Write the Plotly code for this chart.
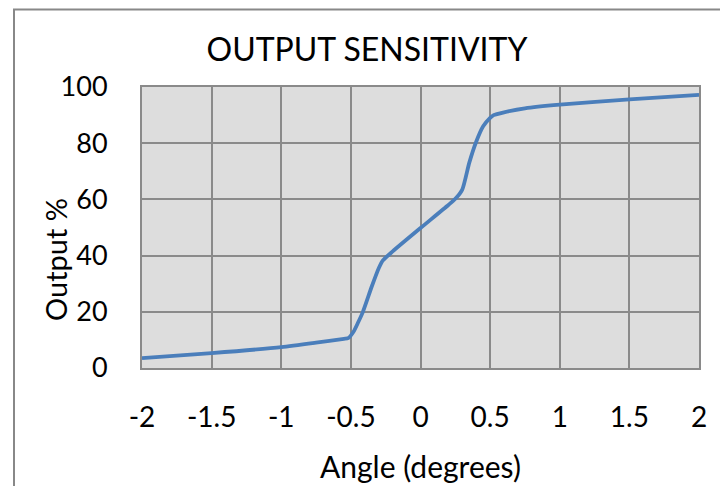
import plotly.graph_objects as go

angle = [-2, -1.5, -1, -0.75, -0.55, -0.52, -0.48, -0.45, -0.415, -0.35, -0.3, -0.27,
         -0.2, 0, 0.2, 0.25, 0.3, 0.35, 0.4, 0.45, 0.5, 0.525, 0.6, 0.75, 1, 1.5, 2]
output = [3.5, 5.3, 7.4, 9.0, 10.4, 10.6, 13.0, 16.0, 19.8, 29.0, 35.5, 38.3,
          41.5, 49.8, 58.0, 60.2, 63.5, 73.0, 80.5, 86.0, 89.0, 90.0, 91.0, 92.4, 93.7, 95.6, 97.2]

x_ticks = [-2, -1.5, -1, -0.5, 0, 0.5, 1, 1.5, 2]
y_ticks = [0, 20, 40, 60, 80, 100]

FONT = "Lato"
GRID = "#8a8a8a"

# page body has an 8px margin, so the figure is 720x478 and offset by 8px
W, H = 720, 478

fig = go.Figure()
fig.add_trace(go.Scatter(
    x=angle, y=output, mode="lines",
    line=dict(color="#4a7ebb", width=3.8, shape="spline", smoothing=0.6),
    showlegend=False,
))

fig.update_layout(
    width=W, height=H,
    margin=dict(l=134, r=29, t=79, b=118),
    paper_bgcolor="white",
    plot_bgcolor="#dddddd",
    font=dict(family=FONT, size=28, color="black"),
    title=dict(text="OUTPUT SENSITIVITY", x=359 / W, xanchor="center",
               y=1 - 42 / H, yanchor="middle", font=dict(size=32, family=FONT)),
    xaxis=dict(range=[-2, 2], tickvals=x_ticks, ticktext=[str(v) for v in x_ticks],
               showgrid=True, gridcolor=GRID, gridwidth=2, zeroline=False,
               showline=True, linecolor=GRID, linewidth=2, mirror=True,
               ticks="", ticklabelstandoff=23, tickfont=dict(size=28)),
    yaxis=dict(range=[0, 100], tickvals=y_ticks,
               showgrid=True, gridcolor=GRID, gridwidth=2, zeroline=False,
               showline=True, linecolor=GRID, linewidth=2, mirror=True,
               ticks="", ticklabelstandoff=27, tickfont=dict(size=27)),
    annotations=[
        dict(text="Angle (degrees)", xref="paper", yref="paper",
             x=(420 - 142) / 557, y=(368 - 466) / 281, xanchor="center", yanchor="middle",
             showarrow=False, font=dict(size=30, family=FONT)),
        dict(text="Output %", xref="paper", yref="paper", textangle=-90,
             x=(55 - 142) / 557, y=(368 - 260) / 281, xanchor="center", yanchor="middle",
             showarrow=False, font=dict(size=29, family=FONT)),
    ],
    shapes=[
        dict(type="rect", xref="paper", yref="paper",
             x0=(14 - 142) / 557, x1=(723 - 142) / 557,
             y0=(368 - 500) / 281, y1=(368 - 9.5) / 281,
             line=dict(color="#888888", width=2), layer="above"),
    ],
)

fig.write_html("out.html")
